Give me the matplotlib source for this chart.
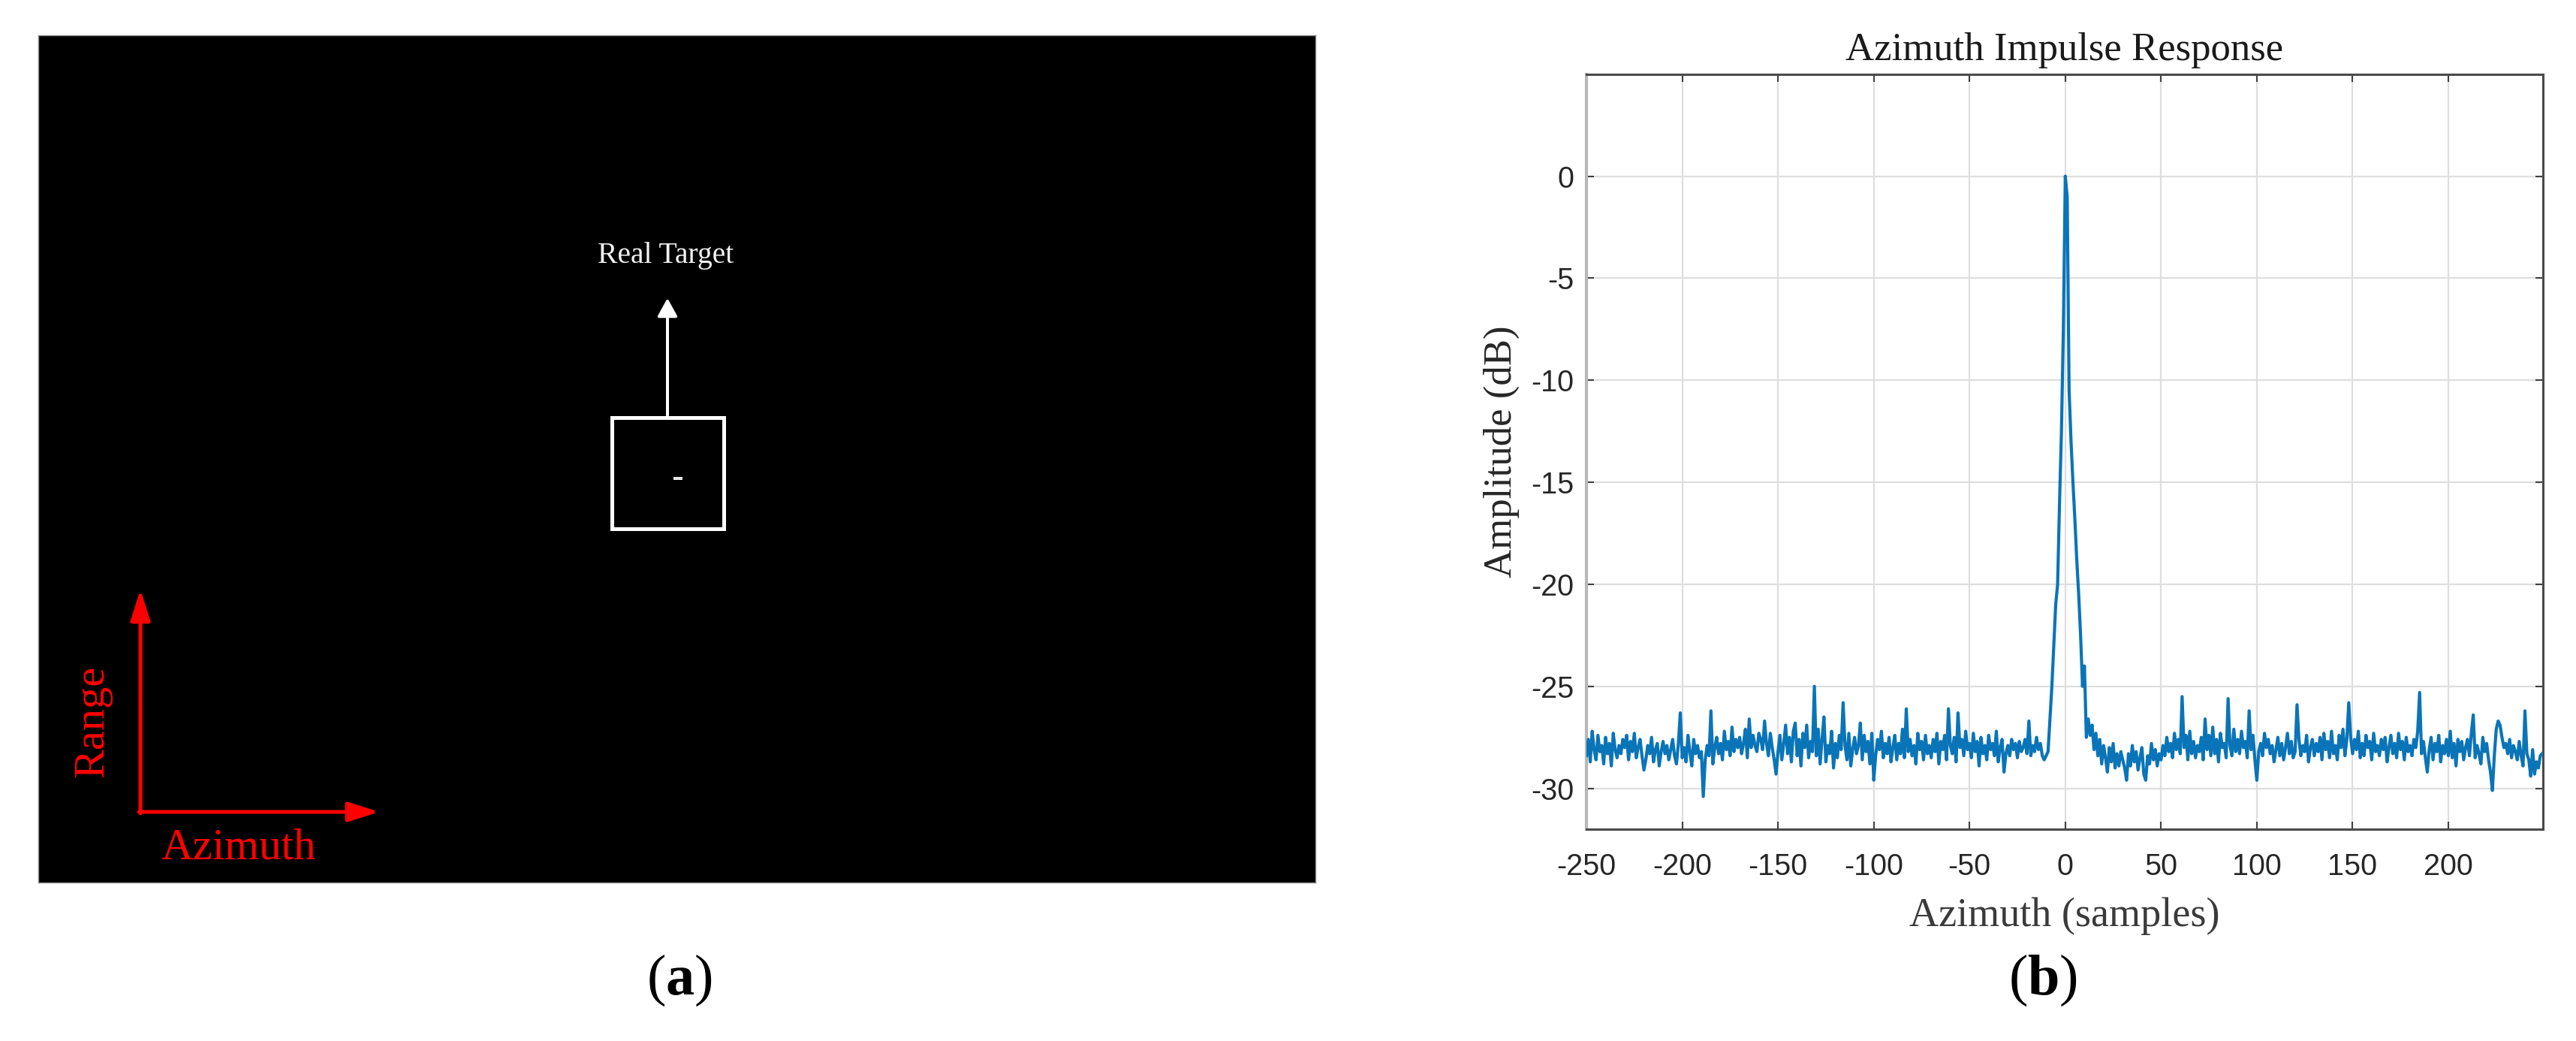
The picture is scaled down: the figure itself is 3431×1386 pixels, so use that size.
import numpy as np
import matplotlib
matplotlib.use("Agg")
import matplotlib.pyplot as plt
from matplotlib.patches import Rectangle

# ---------------- data ----------------
x_start = -250
amplitude_db = [
    -28.4,-27.6,-28.7,-27.2,-28.1,-28.6,-27.4,-28.2,-27.9,-28.8,-27.5,-28.3,-27.8,-28.9,-27.3,-28.1,-28.5,-27.9,-28.3,-27.6,
    -28.0,-27.4,-28.6,-27.7,-28.2,-27.3,-28.5,-28.0,-27.6,-28.4,-29.1,-28.6,-27.9,-28.3,-27.5,-28.7,-28.1,-27.8,-28.9,-28.2,
    -27.7,-28.3,-27.9,-28.6,-28.1,-27.6,-28.4,-28.8,-27.8,-26.3,-28.5,-28.0,-28.7,-27.4,-28.2,-28.9,-27.6,-28.3,-27.9,-28.5,
    -28.2,-30.4,-28.6,-27.9,-28.4,-26.2,-28.8,-28.0,-27.5,-28.3,-27.8,-28.6,-27.2,-28.1,-27.7,-28.4,-27.0,-28.2,-27.6,-28.0,
    -27.5,-28.3,-27.8,-27.1,-28.5,-26.6,-28.0,-27.4,-27.9,-28.2,-27.3,-27.6,-28.1,-26.7,-27.8,-28.4,-27.3,-28.0,-28.6,-29.3,
    -28.2,-27.4,-28.6,-27.8,-26.9,-28.3,-27.5,-28.7,-27.2,-26.8,-28.4,-27.6,-28.9,-27.3,-28.0,-26.9,-28.5,-27.7,-28.2,-25.0,
    -28.4,-27.1,-28.8,-27.6,-26.5,-28.7,-27.9,-28.3,-27.2,-29.0,-27.8,-28.5,-27.4,-28.1,-25.8,-27.9,-28.6,-27.3,-28.9,-28.1,
    -27.5,-28.3,-27.9,-26.8,-28.6,-27.4,-28.2,-27.7,-28.8,-27.3,-29.6,-28.4,-27.6,-28.1,-27.2,-28.5,-27.8,-28.3,-27.5,-28.7,
    -28.0,-27.4,-28.6,-27.8,-28.3,-27.1,-28.5,-26.1,-28.2,-27.6,-28.4,-27.9,-28.8,-27.3,-28.1,-27.7,-28.6,-27.4,-28.3,-27.9,
    -28.5,-27.6,-28.2,-27.3,-28.8,-27.7,-28.1,-27.4,-28.6,-26.1,-27.9,-28.3,-27.5,-28.7,-26.3,-28.0,-27.6,-28.4,-27.2,-28.1,
    -27.8,-28.5,-27.3,-28.2,-27.7,-28.9,-27.5,-28.3,-27.9,-28.6,-27.4,-28.1,-27.8,-28.4,-27.2,-28.7,-28.0,-27.6,-29.2,-28.3,
    -27.9,-28.4,-27.6,-28.1,-27.8,-28.5,-27.7,-28.2,-28.0,-27.6,-28.3,-26.7,-28.4,-27.9,-28.2,-27.5,-28.1,-27.8,-28.4,-28.6,
    -28.4,-28.2,-26.6,-25.0,-23.0,-21.0,-20.0,-16.0,-12.5,-7.5,0.0,-1.0,-10.5,-13.0,-15.0,-16.8,-18.8,-20.5,-22.5,-25.0,
    -24.0,-27.5,-26.6,-27.4,-26.9,-28.1,-27.3,-28.4,-27.6,-28.8,-27.9,-28.5,-29.2,-28.0,-28.7,-27.8,-29.0,-28.3,-28.9,-28.2,
    -28.6,-29.0,-29.6,-28.3,-28.9,-27.9,-28.7,-28.2,-29.1,-28.5,-28.0,-29.3,-29.6,-28.4,-28.8,-27.8,-28.6,-28.1,-28.9,-28.3,
    -28.6,-27.9,-28.4,-27.5,-28.2,-27.8,-28.5,-27.3,-28.1,-27.6,-28.3,-25.5,-28.0,-27.4,-28.6,-27.2,-28.3,-27.7,-28.5,-27.9,
    -28.2,-27.5,-28.6,-26.6,-28.1,-27.4,-28.4,-27.0,-28.3,-27.6,-28.7,-27.3,-28.0,-27.8,-28.5,-25.6,-27.9,-28.4,-27.1,-28.2,
    -27.6,-28.3,-27.2,-28.0,-27.7,-28.5,-26.2,-28.1,-27.4,-28.6,-29.6,-28.2,-27.8,-28.4,-27.3,-28.0,-27.6,-28.3,-27.9,-28.7,
    -28.1,-27.5,-28.4,-27.8,-28.6,-28.0,-27.3,-28.3,-27.7,-28.5,-28.2,-25.9,-27.6,-28.4,-27.9,-28.2,-27.4,-28.7,-28.0,-27.6,
    -28.4,-27.8,-28.2,-27.5,-28.6,-27.3,-28.1,-27.7,-28.5,-27.2,-28.3,-27.9,-28.6,-27.4,-28.0,-27.1,-28.4,-27.6,-25.8,-27.5,
    -28.3,-27.6,-28.1,-27.2,-28.5,-27.8,-28.4,-27.4,-28.0,-27.7,-28.6,-27.3,-28.2,-27.9,-28.4,-27.6,-28.1,-27.5,-28.7,-28.0,
    -27.4,-28.3,-27.8,-28.5,-27.3,-28.1,-27.7,-28.6,-27.5,-28.2,-27.9,-28.4,-27.6,-28.0,-27.2,-25.3,-28.3,-27.7,-28.5,-29.2,
    -28.1,-27.5,-28.6,-27.8,-28.2,-27.4,-28.7,-27.9,-28.3,-27.6,-28.4,-27.2,-28.5,-27.8,-28.9,-27.6,-28.2,-27.7,-28.6,-28.0,
    -27.6,-28.4,-27.3,-26.4,-28.5,-27.9,-28.3,-28.8,-27.5,-28.2,-27.8,-28.6,-29.2,-30.1,-28.4,-27.1,-26.7,-26.9,-27.5,-28.0,
    -27.8,-28.3,-27.6,-28.5,-27.9,-28.2,-28.6,-27.7,-28.4,-28.9,-26.2,-28.3,-28.6,-29.4,-28.1,-29.3,-28.7,-29.0,-28.4,-28.3,
]
x_ticks = [-250, -200, -150, -100, -50, 0, 50, 100, 150, 200]
y_ticks = [0, -5, -10, -15, -20, -25, -30]
x_limits = (-250, 249.4)
y_limits = (-32, 5)

title_text = "Azimuth Impulse Response"
xlabel_text = "Azimuth (samples)"
ylabel_text = "Amplitude (dB)"

# ---------------- style ----------------
plt.rcParams['mathtext.fontset'] = 'custom'
plt.rcParams['mathtext.rm'] = 'Liberation Serif'
plt.rcParams['mathtext.bf'] = 'Liberation Serif:bold'
SERIF = ['Liberation Serif', 'DejaVu Serif']
SANS = ['Liberation Sans', 'DejaVu Sans']

W_PX, H_PX = 3431, 1386
fig = plt.figure(figsize=(W_PX / 100, H_PX / 100), dpi=100)
fig.patch.set_facecolor('white')

# ---------------- panel (a): black scene ----------------
pa_left, pa_top, pa_right, pa_bottom = 51, 47, 1752, 1175
axa = fig.add_axes([pa_left / W_PX, 1 - pa_bottom / H_PX,
                    (pa_right - pa_left) / W_PX, (pa_bottom - pa_top) / H_PX])
PW, PH = pa_right - pa_left, pa_bottom - pa_top
axa.set_xlim(0, PW)
axa.set_ylim(PH, 0)
axa.set_facecolor('black')
axa.set_xticks([])
axa.set_yticks([])
for s in axa.spines.values():
    s.set_color('#8a8a8a')
    s.set_linewidth(1.0)

# target box
axa.add_patch(Rectangle((764.5, 508.5), 149, 148, fill=False,
                        edgecolor='white', linewidth=3.6))
# point target
axa.add_patch(Rectangle((846, 588), 12, 4, facecolor='#e8e8e8', edgecolor='none'))
# white arrow
axa.annotate('', xy=(838, 350), xytext=(838, 506),
             arrowprops=dict(arrowstyle='-|>,head_length=1.45,head_width=0.8',
                             mutation_scale=10, color='white', lw=2.9,
                             shrinkA=0, shrinkB=0))
axa.text(836, 303, "Real Target", color='#f2f2f2', fontsize=28.5,
         family=SERIF, ha='center', va='baseline')

# red direction arrows
axa.annotate('', xy=(136, 738), xytext=(136, 1036),
             arrowprops=dict(arrowstyle='-|>,head_length=2.5,head_width=0.8',
                             mutation_scale=10, color='#ff0000', lw=3.6,
                             shrinkA=0, shrinkB=0))
axa.annotate('', xy=(454, 1034), xytext=(134, 1034),
             arrowprops=dict(arrowstyle='-|>,head_length=2.5,head_width=0.8',
                             mutation_scale=10, color='#ff0000', lw=3.6,
                             shrinkA=0, shrinkB=0))
axa.text(72, 913, "Range", color='#ff0000', fontsize=42, family=SERIF,
         rotation=90, ha='center', va='center')
axa.text(267, 1097, "Azimuth", color='#ff0000', fontsize=42.5, family=SERIF,
         ha='center', va='baseline')

# ---------------- panel (b): impulse response ----------------
pb_left, pb_top, pb_right, pb_bottom = 2113, 98.7, 3387, 1104
axb = fig.add_axes([pb_left / W_PX, 1 - pb_bottom / H_PX,
                    (pb_right - pb_left) / W_PX, (pb_bottom - pb_top) / H_PX])
amp = np.array(amplitude_db)
xs = np.arange(x_start, x_start + len(amp))
axb.plot(xs, amp, color='#0a74b8', linewidth=3.0, zorder=3)
axb.set_xlim(*x_limits)
axb.set_ylim(*y_limits)
axb.set_xticks(x_ticks)
axb.set_yticks(y_ticks)
axb.set_xticklabels([str(v) for v in x_ticks])
axb.set_yticklabels([str(v) for v in y_ticks])
axb.grid(True, color='#dedede', linewidth=1.6, zorder=0)
axb.set_axisbelow(True)
axb.tick_params(axis='both', direction='in', length=7, width=1.5,
                colors='#404040', labelcolor='#262626', labelsize=28.5,
                top=True, right=True)
axb.tick_params(axis='x', pad=22.5)
axb.tick_params(axis='y', pad=12)
for lab in axb.get_xticklabels() + axb.get_yticklabels():
    lab.set_family(SANS)
for name, s in axb.spines.items():
    s.set_color('#4a4a4a')
    s.set_linewidth(2.2)
axb.spines['left'].set_color('#b8b8b8')
axb.spines['left'].set_linewidth(3.0)

axb.text(0.5, 1.0186, title_text, transform=axb.transAxes, ha='center',
         va='baseline', fontsize=38, family=SERIF, color='#1a1a1a')
axb.set_xlabel(xlabel_text, fontsize=39, family=SERIF, color='#3a3a3a',
               va='baseline')
axb.xaxis.set_label_coords(0.5, -0.1283)
axb.set_ylabel(ylabel_text, fontsize=38, family=SERIF, color='#262626',
               va='baseline')
axb.yaxis.set_label_coords(-0.0785, 0.5)

# ---------------- panel labels ----------------
fig.text(905 / W_PX, 1 - 1305 / H_PX, r"($\mathbf{a}$)", fontsize=55,
         family=SERIF, ha='center', va='center', color='black')
fig.text(2721 / W_PX, 1 - 1305 / H_PX, r"($\mathbf{b}$)", fontsize=55,
         family=SERIF, ha='center', va='center', color='black')

fig.savefig('out.png', dpi=100, facecolor='white')
